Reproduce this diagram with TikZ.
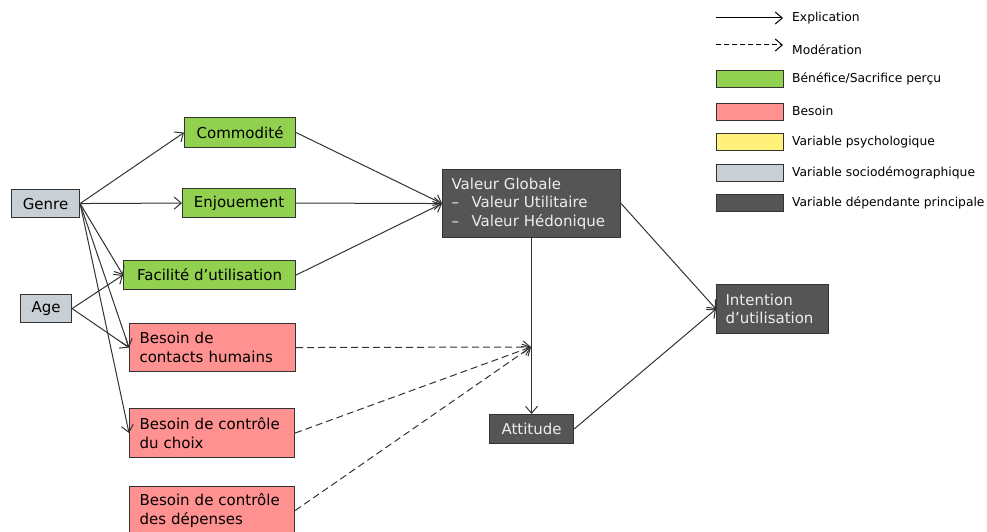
\documentclass[tikz,border=0pt]{standalone}
\usepackage{fontspec}
\setmainfont{DejaVu Sans}
\usetikzlibrary{arrows.meta}
\definecolor{benefGreen}{HTML}{92D050}
\definecolor{besoinPink}{HTML}{FF9191}
\definecolor{psyYellow}{HTML}{FFF17A}
\definecolor{socioGray}{HTML}{C8D0D6}
\definecolor{depDark}{HTML}{555555}
\definecolor{lineGray}{HTML}{333333}
\newcommand{\boxFont}{\fontsize{15}{18.5}\selectfont}
\newcommand{\legendFont}{\fontsize{12.3}{15}\selectfont}
\newcommand{\puce}{\makebox[20pt][l]{--}}

\begin{document}
\begin{tikzpicture}[x=1pt, y=-1pt]
  \tikzset{
    var/.style={draw=lineGray, line width=1.1pt, anchor=north west, inner xsep=10pt, inner ysep=0pt, font=\boxFont},
    benef/.style={var, fill=benefGreen},
    besoin/.style={var, fill=besoinPink, align=left},
    socio/.style={var, fill=socioGray},
    dep/.style={var, fill=depDark, text=white!93!black, align=left},
    expl/.style={draw=lineGray, line width=1pt, -{Straight Barb[length=7pt,width=12pt]}},
    mod/.style={expl, dash pattern=on 7pt off 4pt},
    key/.style={draw=lineGray, line width=1.1pt, minimum width=67pt, minimum height=17pt, inner sep=0pt, anchor=north west},
    keytext/.style={anchor=west, inner sep=0pt, font=\legendFont},
  }
  \useasboundingbox (0,0) rectangle (987,532);

  \node[socio, minimum width=68pt, minimum height=28pt] (genre) at (11,189) {Genre};
  \node[socio, minimum width=51pt, minimum height=28pt] (age) at (20,294) {Age};

  \node[benef, minimum width=111pt, minimum height=30pt] (commod) at (184,117) {Commodité};
  \node[benef, minimum width=113pt, minimum height=29pt] (enjou) at (182,188) {Enjouement};
  \node[benef, minimum width=172pt, minimum height=29pt] (facil) at (123,260) {Facilité d’utilisation};

  \node[besoin, text width=146pt, minimum height=48pt] (contacts) at (129,323) {Besoin de\\contacts humains};
  \node[besoin, text width=145pt, minimum height=49pt] (choix) at (129,408) {Besoin de contrôle\\du choix};
  \node[besoin, text width=145pt, minimum height=48pt] (depenses) at (129,486) {Besoin de contrôle\\des dépenses};

  \node[dep, inner xsep=9pt, text width=160pt, minimum height=68pt] (valeur) at (442,169) {Valeur Globale\\\puce Valeur Utilitaire\\\puce Valeur Hédonique};
  \node[dep, align=center, minimum width=84pt, minimum height=29pt] (attitude) at (489,414) {Attitude};
  \node[dep, inner xsep=9pt, text width=94pt, minimum height=49pt] (intention) at (716,284) {Intention\\d’utilisation};

  \coordinate (modpt) at (531,347);

  \draw[expl] (genre.east) -- (commod.west);
  \draw[expl] (genre.east) -- (enjou.west);
  \draw[expl] (genre.east) -- (facil.west);
  \draw[expl] (genre.east) -- (contacts.west);
  \draw[expl] (genre.east) -- (choix.west);
  \draw[expl] (age.east) -- (facil.west);
  \draw[expl] (age.east) -- (contacts.west);
  \draw[expl] (commod.east) -- (valeur.west);
  \draw[expl] (enjou.east) -- (valeur.west);
  \draw[expl] (facil.east) -- (valeur.west);
  \draw[expl] (valeur.south) -- (attitude.north);
  \draw[expl] (valeur.east) -- (intention.west);
  \draw[expl] (attitude.east) -- (intention.west);
  \draw[mod] (contacts.east) -- (modpt);
  \draw[mod] (choix.east) -- (modpt);
  \draw[mod] (depenses.east) -- (modpt);

  \coordinate (explA) at (716,18);
  \coordinate (explB) at (783,18);
  \coordinate (modA) at (716,45);
  \coordinate (modB) at (783,45);
  \draw[expl, draw=black] (explA) -- (explB);
  \draw[expl, draw=black, dash pattern=on 5pt off 3pt] (modA) -- (modB);
  \node[keytext] (lgExpl) at (792,18) {Explication};
  \node[keytext] (lgMod) at (792,50) {Modération};

  \node[key, fill=benefGreen] (keyBenef) at (716,70) {};
  \node[key, fill=besoinPink] (keyBesoin) at (716,103) {};
  \node[key, fill=psyYellow] (keyPsy) at (716,133) {};
  \node[key, fill=socioGray] (keySocio) at (716,164) {};
  \node[key, fill=depDark] (keyDep) at (716,194) {};
  \node[keytext] (lgBenef) at (792,78.5) {Bénéfice/Sacrifice perçu};
  \node[keytext] (lgBesoin) at (792,111) {Besoin};
  \node[keytext] (lgPsy) at (792,142) {Variable psychologique};
  \node[keytext] (lgSocio) at (792,173) {Variable sociodémographique};
  \node[keytext] (lgDep) at (792,203) {Variable dépendante principale};
\end{tikzpicture}
\end{document}
